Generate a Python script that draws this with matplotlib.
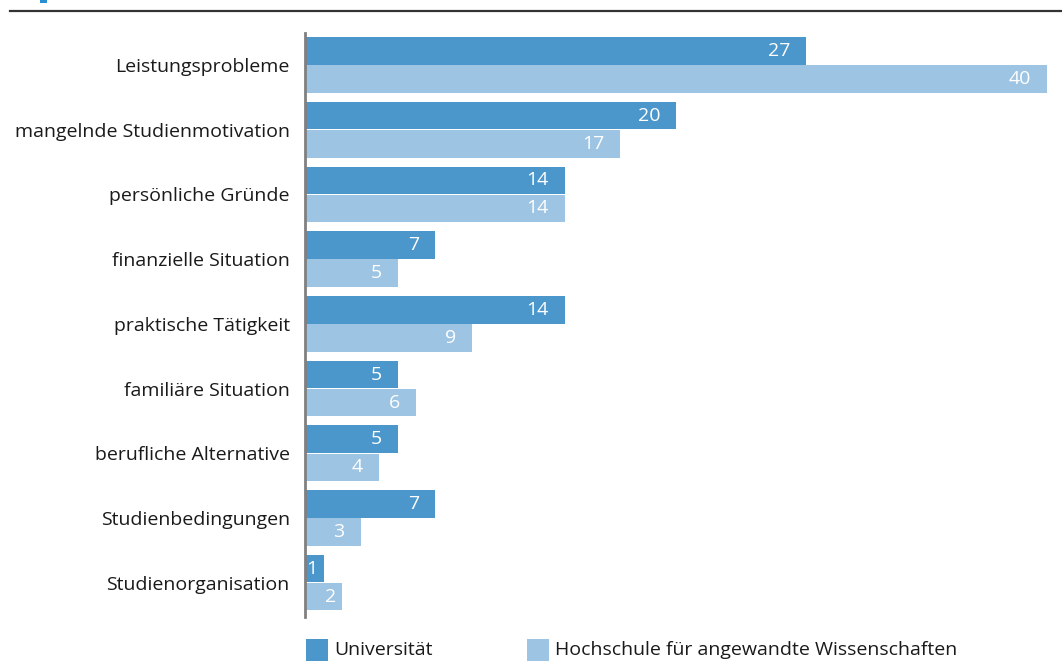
import matplotlib
matplotlib.use("Agg")
import matplotlib.pyplot as plt
from matplotlib.patches import Rectangle
import numpy as np

categories = ["Leistungsprobleme", "mangelnde Studienmotivation", "persönliche Gründe",
              "finanzielle Situation", "praktische Tätigkeit", "familiäre Situation",
              "berufliche Alternative", "Studienbedingungen", "Studienorganisation"]
universitaet = [27, 20, 14, 7, 14, 5, 5, 7, 1]
hochschule = [40, 17, 14, 5, 9, 6, 4, 3, 2]
series_names = ["Universität", "Hochschule für angewandte Wissenschaften"]

dark = "#4b97cc"
light = "#9dc4e3"
plt.rcParams['font.family'] = ['Open Sans', 'DejaVu Sans']

W, H = 1062, 664
fig = plt.figure(figsize=(W/100, H/100), dpi=100)
ax = fig.add_axes([305/W, 1-617/H, (1047-305)/W, (617-33)/H])

y = np.arange(len(categories))
h = 0.425
off = 0.217
ax.barh(y - off, universitaet, height=h, color=dark, linewidth=0)
ax.barh(y + off, hochschule, height=h, color=light, linewidth=0)

ax.set_xlim(0, 40)
ax.set_ylim(8.53, -0.495)
ax.set_yticks(y)
ax.set_yticklabels(categories, fontsize=14, color="#1a1a1a")
ax.tick_params(axis='y', length=0, pad=11)
ax.set_xticks([])
for s in ["top", "right", "bottom"]:
    ax.spines[s].set_visible(False)
ax.spines["left"].set_color("#808080")
ax.spines["left"].set_linewidth(2)

for vals, yy in ((universitaet, y - off), (hochschule, y + off)):
    for v, yc in zip(vals, yy):
        pad = 4.5 if v <= 2 else 11.5
        ax.annotate(str(v), (v, yc), xytext=(-pad, 0), textcoords="offset points",
                    ha="right", va="center", color="white", fontsize=14)

# top rule and small marker
fig.add_artist(plt.Line2D([10/W, 1], [1-11/H, 1-11/H], color="#333333", lw=1.6))
fig.add_artist(Rectangle((40/W, 1-2.5/H), 7/W, 2.5/H, color="#2a8fd0", lw=0))

# legend
for x0, col, name, tx in ((306, dark, series_names[0], 334), (527, light, series_names[1], 555)):
    fig.add_artist(Rectangle((x0/W, 1-661/H), 22/W, 22/H, color=col, lw=0))
    fig.text(tx/W, 1-650/H, name, fontsize=14, va="center", ha="left", color="#1a1a1a")

fig.savefig("out.png", dpi=100)
